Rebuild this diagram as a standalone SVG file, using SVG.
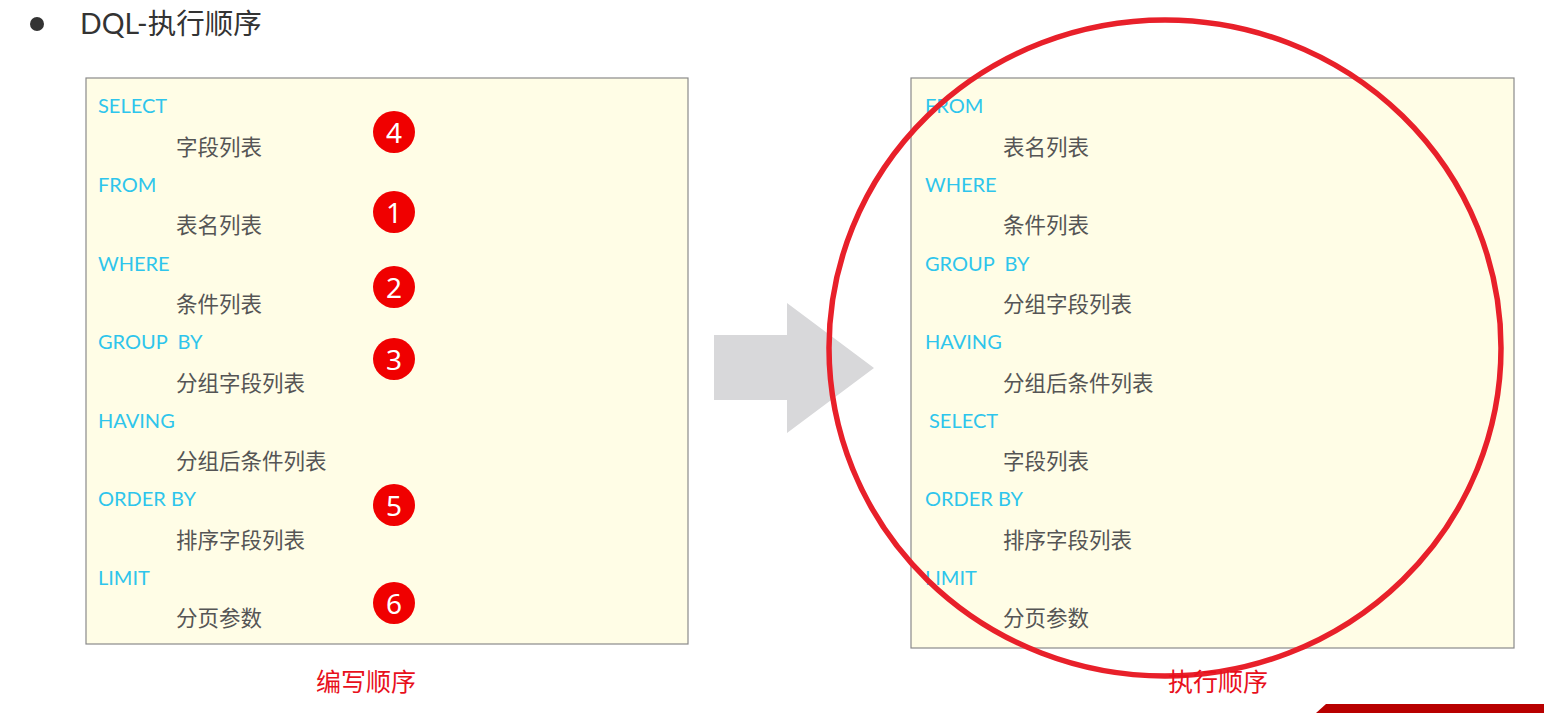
<svg xmlns="http://www.w3.org/2000/svg" width="1544" height="713" viewBox="0 0 1544 713">
<style>
.kw{font-family:Lato,"Noto Sans","Noto Sans CJK SC",sans-serif;font-size:20px;fill:#2ec5ec;dominant-baseline:central}
.sub{font-family:"Noto Sans CJK SC","Noto Sans",sans-serif;font-size:21.5px;fill:#555;dominant-baseline:central}
.box{fill:#fffde6;stroke:#8a8a8a;stroke-width:1.2}
.badge circle{fill:#f00000}
.badge text{font-family:"Noto Sans","Liberation Sans",sans-serif;font-size:28px;fill:#fff;text-anchor:middle;dominant-baseline:central}
.cap{font-family:"Noto Sans CJK SC",sans-serif;font-size:25px;fill:#e8101c;text-anchor:middle;dominant-baseline:central}
</style>
<rect width="1544" height="713" fill="#fff"/>
<g id="title">
<circle cx="37" cy="24" r="7" fill="#333"/>
<text x="80" y="23" font-family="Lato,'Noto Sans','Noto Sans CJK SC',sans-serif" font-size="28.5" fill="#333" dominant-baseline="central">DQL-执行顺序</text>
</g>
<g id="left-box">
<rect class="box" x="86" y="78" width="602" height="566"/>
<text class="kw" x="98" y="105">SELECT</text>
<text class="sub" x="176" y="145">字段列表</text>
<text class="kw" x="98" y="184">FROM</text>
<text class="sub" x="176" y="223">表名列表</text>
<text class="kw" x="98" y="263">WHERE</text>
<text class="sub" x="176" y="302">条件列表</text>
<text class="kw" x="98" y="341" xml:space="preserve">GROUP  BY</text>
<text class="sub" x="176" y="381">分组字段列表</text>
<text class="kw" x="98" y="420">HAVING</text>
<text class="sub" x="176" y="459">分组后条件列表</text>
<text class="kw" x="98" y="498">ORDER BY</text>
<text class="sub" x="176" y="538">排序字段列表</text>
<text class="kw" x="98" y="577">LIMIT</text>
<text class="sub" x="176" y="616">分页参数</text>
</g>
<g id="badges" class="badge">
<circle cx="394" cy="132" r="21"/><text x="394" y="132">4</text>
<circle cx="394" cy="212" r="21"/><text x="394" y="212">1</text>
<circle cx="394" cy="287" r="21"/><text x="394" y="287">2</text>
<circle cx="394" cy="359" r="21"/><text x="394" y="359">3</text>
<circle cx="394" cy="505" r="21"/><text x="394" y="505">5</text>
<circle cx="394" cy="603" r="21"/><text x="394" y="603">6</text>
</g>
<g id="arrow">
<polygon points="714,335 787,335 787,303 874,368 787,433 787,400 714,400" fill="#d8d8da"/>
</g>
<g id="right-box">
<rect class="box" x="911" y="78" width="603" height="570"/>
<text class="kw" x="925" y="105">FROM</text>
<text class="sub" x="1003" y="145">表名列表</text>
<text class="kw" x="925" y="184">WHERE</text>
<text class="sub" x="1003" y="223">条件列表</text>
<text class="kw" x="925" y="263" xml:space="preserve">GROUP  BY</text>
<text class="sub" x="1003" y="302">分组字段列表</text>
<text class="kw" x="925" y="341">HAVING</text>
<text class="sub" x="1003" y="381">分组后条件列表</text>
<text class="kw" x="929" y="420">SELECT</text>
<text class="sub" x="1003" y="459">字段列表</text>
<text class="kw" x="925" y="498">ORDER BY</text>
<text class="sub" x="1003" y="538">排序字段列表</text>
<text class="kw" x="925" y="577">LIMIT</text>
<text class="sub" x="1003" y="616">分页参数</text>
</g>
<g id="connectors">
<ellipse cx="1165" cy="348" rx="336" ry="328" fill="none" stroke="#e8202a" stroke-width="5.5"/>
</g>
<g id="captions">
<text class="cap" x="366" y="680">编写顺序</text>
<text class="cap" x="1218" y="680">执行顺序</text>
</g>
<polygon points="1316,713 1326,704 1544,704 1544,713" fill="#b80000"/>
</svg>
